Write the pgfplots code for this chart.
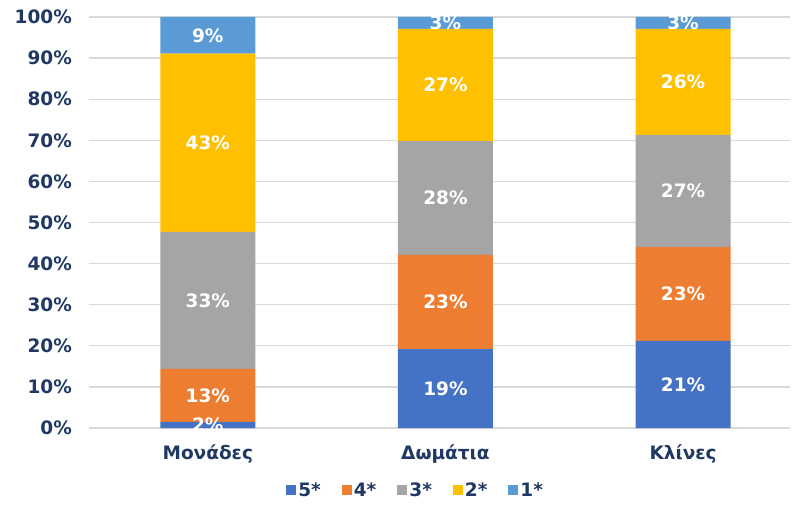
\documentclass[border=0pt]{standalone}
\usepackage{pgfplots}
\pgfplotsset{compat=1.18}
\usepackage{fontspec}
\setmainfont{DejaVu Sans}
\definecolor{cfive}{HTML}{4472C4}
\definecolor{cfour}{HTML}{ED7D31}
\definecolor{cthree}{HTML}{A5A5A5}
\definecolor{ctwo}{HTML}{FFC000}
\definecolor{cone}{HTML}{5B9BD5}
\definecolor{navy}{HTML}{1F3864}
\definecolor{gridc}{HTML}{D9D9D9}
\newcommand{\lf}{\fontsize{18.5}{21}\selectfont\bfseries}
\begin{document}
\begin{tikzpicture}
\path[use as bounding box] (0,0) rectangle (792pt,504pt);
\begin{axis}[
  at={(89pt,76pt)}, anchor=south west,
  scale only axis, width=701pt, height=411pt,
  ybar stacked, bar width=95pt,
  xmin=-0.5, xmax=2.45, ymin=0, ymax=100,
  xtick={0,1,2}, xticklabels={Μονάδες,Δωμάτια,Κλίνες},
  ytick={0,10,...,100},
  yticklabel={\pgfmathprintnumber{\tick}\%},
  /pgf/number format/assume math mode=true,
  ymajorgrids, grid style={gridc, line width=1.3pt},
  axis line style={draw=none},
  major tick length=0pt,
  yticklabel style={inner sep=0pt, anchor=east, xshift=-17pt, font=\lf, text=navy},
  xticklabel style={inner sep=0pt, anchor=north, yshift=-16pt, font=\lf, text=navy},
  legend style={draw=none, at={(0.466,-0.151)}, anchor=center, legend columns=-1,
    font=\lf, text=navy, inner sep=0pt,
    /tikz/every even column/.append style={column sep=19pt}},
  legend image code/.code={\fill[#1] (0pt,-5pt) rectangle (10pt,5pt);},
]
\addplot[fill=cfive, draw=none] coordinates {(0,1.5) (1,19.2) (2,21.2)};
\addplot[fill=cfour, draw=none] coordinates {(0,12.9) (1,22.9) (2,22.8)};
\addplot[fill=cthree, draw=none] coordinates {(0,33.3) (1,27.7) (2,27.3)};
\addplot[fill=ctwo, draw=none] coordinates {(0,43.4) (1,27.3) (2,25.8)};
\addplot[fill=cone, draw=none] coordinates {(0,8.9) (1,2.9) (2,2.9)};
\legend{5*,4*,3*,2*,1*}
\end{axis}
\begin{scope}
\clip (89pt,75pt) rectangle (790pt,487pt);
\begin{axis}[
  at={(89pt,76pt)}, anchor=south west,
  scale only axis, width=701pt, height=411pt,
  xmin=-0.5, xmax=2.45, ymin=0, ymax=100,
  hide axis,
]
\addplot[only marks, mark=none, point meta=explicit,
  nodes near coords={\pgfmathprintnumber[fixed,precision=0,assume math mode=true]{\pgfplotspointmeta}\%},
  every node near coord/.append style={anchor=center, font=\lf, text=white, inner sep=0pt}]
  table[x=x, y=y, meta=v] {
x y v
0 0.75 1.5
0 7.95 12.9
0 31.05 33.3
0 69.4 43.4
0 95.55 8.9
1 9.6 19.2
1 30.65 22.9
1 55.95 27.7
1 83.45 27.3
1 98.55 2.9
2 10.6 21.2
2 32.6 22.8
2 57.65 27.3
2 84.2 25.8
2 98.55 2.9
};
\end{axis}
\end{scope}
\end{tikzpicture}
\end{document}
